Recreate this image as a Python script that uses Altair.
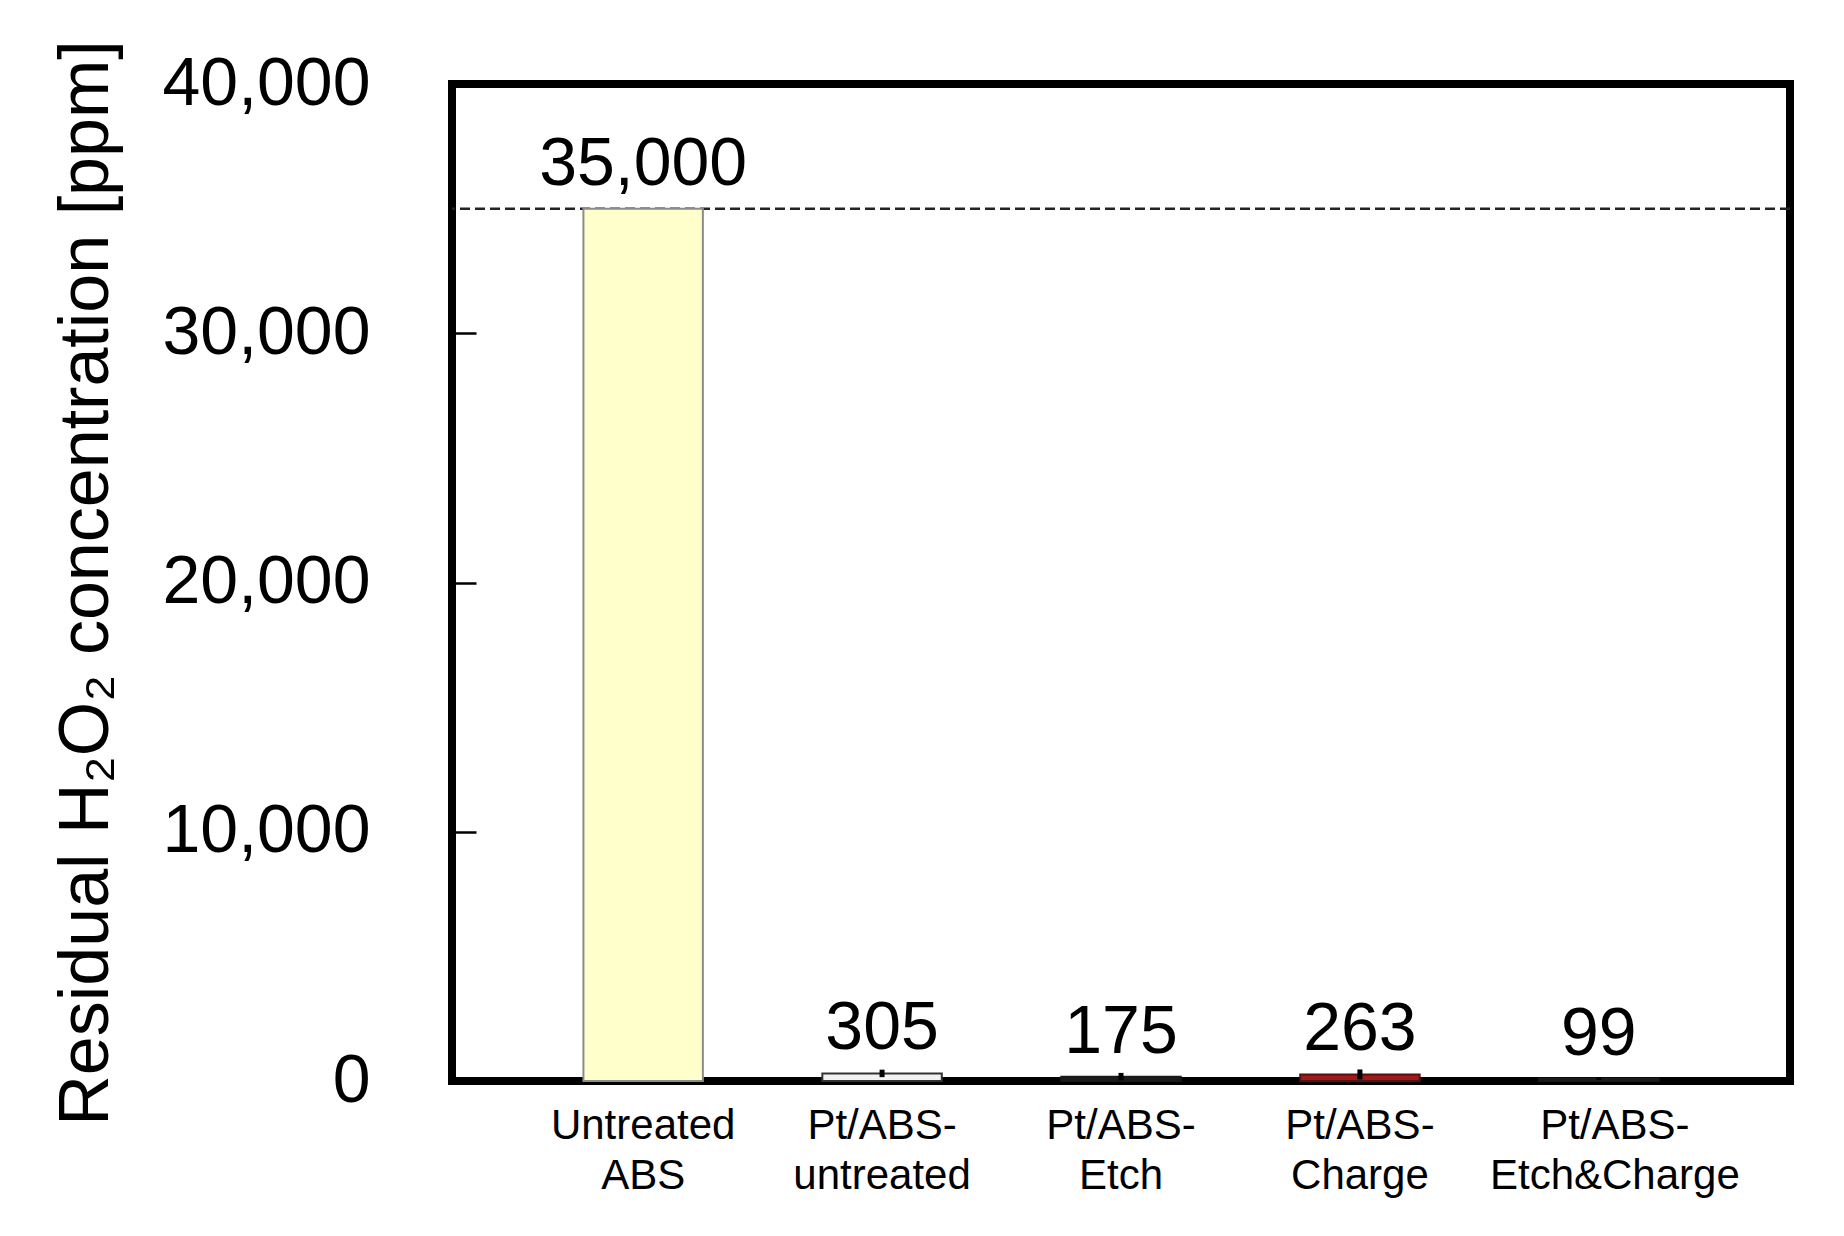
import altair as alt
import pandas as pd

categories = ["Untreated ABS", "Pt/ABS-untreated", "Pt/ABS-Etch", "Pt/ABS-Charge", "Pt/ABS-Etch&Charge"]
values = [35000, 305, 175, 263, 99]
errors = [0, 150, 150, 200, 60]
value_labels = ["35,000", "305", "175", "263", "99"]
fill_colors = ["#FFFFCC", "#F2F2F2", "#1A1A1A", "#9E1B1B", "#1A1A1A"]
stroke_colors = ["#8C8C8C", "#333333", "#1A1A1A", "#5A0E0E", "#1A1A1A"]
y_ticks = [0, 10000, 20000, 30000, 40000]
reference_level = [35000]

FONT = "Liberation Sans"

df = pd.DataFrame({
    "category": categories,
    "value": values,
    "lo": [v - e for v, e in zip(values, errors)],
    "hi": [v + e for v, e in zip(values, errors)],
    "label": value_labels,
})
ref_df = pd.DataFrame({"level": reference_level})

x_enc = alt.X(
    "category:N",
    sort=categories,
    scale=alt.Scale(paddingInner=0.5, paddingOuter=0.55),
    axis=alt.Axis(
        title=None,
        ticks=False,
        tickSize=0,
        domain=False,
        labelAngle=0,
        labelFont=FONT,
        labelFontSize=42,
        labelLineHeight=50,
        labelColor="black",
        labelPadding=24,
        labelLimit=600,
        labelOffset={"condition": {"test": "datum.value == 'Pt/ABS-Etch&Charge'", "value": 16}, "value": 0},
        labelExpr="datum.label == 'Untreated ABS' ? ['Untreated', 'ABS'] : [slice(datum.label, 0, 7), slice(datum.label, 7)]",
    ),
)

y_scale = alt.Scale(domain=[0, 40000], nice=False, zero=True)
y_axis = alt.Axis(
    values=y_ticks,
    format=",d",
    offset=-24,
    tickSize=24,
    tickWidth=2.5,
    tickColor="black",
    domain=False,
    grid=False,
    labelFont=FONT,
    labelFontSize=68,
    labelColor="black",
    labelPadding=82,
    labelLimit=600,
    title="Residual H₂O₂ concentration [ppm]",
    titleFont=FONT,
    titleFontSize=70,
    titleFontWeight="normal",
    titleColor="black",
    titleX=-369,
    titleY=498.5,
    titleBaseline="alphabetic",
    titleAlign="center",
    titleLimit=2000,
)

base = alt.Chart(df)

ref = alt.Chart(ref_df).mark_rule(strokeDash=[10, 5], strokeWidth=2.5, color="#222222").encode(
    y=alt.Y("level:Q", scale=y_scale, axis=y_axis)
)

bars = base.mark_bar(strokeWidth=2).encode(
    x=x_enc,
    y=alt.Y("value:Q", scale=y_scale, axis=y_axis),
    fill=alt.Fill("category:N", scale=alt.Scale(domain=categories, range=fill_colors), legend=None),
    stroke=alt.Stroke("category:N", scale=alt.Scale(domain=categories, range=stroke_colors), legend=None),
)

err = base.mark_rule(strokeWidth=5, color="black").encode(
    x=alt.X("category:N", sort=categories),
    y="lo:Q",
    y2="hi:Q",
)

text = base.mark_text(font=FONT, fontSize=68, baseline="alphabetic", dy=-24, color="black").encode(
    x=alt.X("category:N", sort=categories),
    y="value:Q",
    text="label:N",
)

chart = alt.layer(ref, bars, err, text).properties(
    width=1338,
    height=997,
    autosize=alt.AutoSizeParams(type="none"),
    padding={"left": 444, "top": 76, "right": 30, "bottom": 150},
    background="white",
).configure_view(stroke="black", strokeWidth=8)

chart.save("out.html", embed_options={"renderer": "svg", "actions": False})
